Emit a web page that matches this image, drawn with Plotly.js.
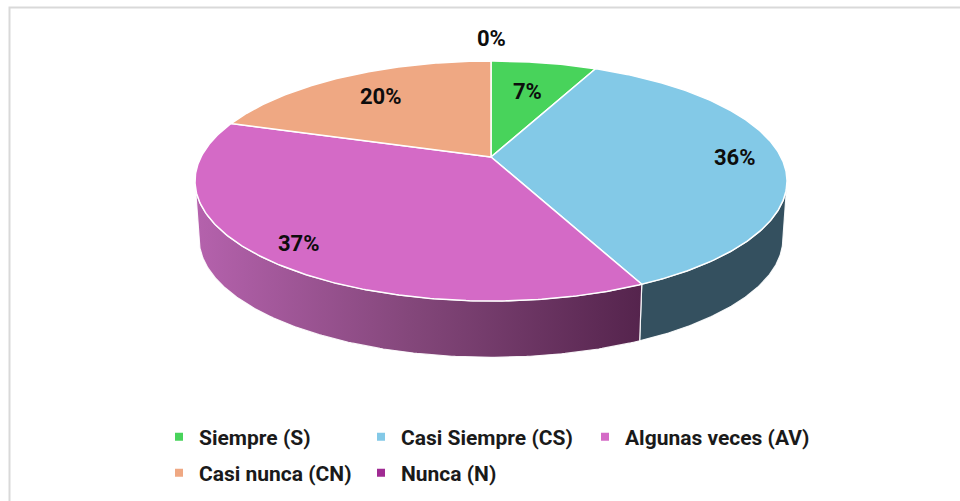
<!DOCTYPE html>
<html>
<head>
<meta charset="utf-8">
<script src="https://cdn.plot.ly/plotly-3.0.1.min.js"></script>
<style>
html,body{margin:0;padding:0;background:#ffffff;}
#chart{width:960px;height:501px;}
</style>
</head>
<body>
<div id="chart"></div>
<script>
// ---------- data ----------
const categories = ['Siempre (S)', 'Casi Siempre (CS)', 'Algunas veces (AV)', 'Casi nunca (CN)', 'Nunca (N)'];
const percentages = [7, 36, 37, 20, 0];

// ---------- styles ----------
const topColors = ['#48D35B', '#83C9E7', '#D46AC6', '#EFA883', '#A02B93'];
const sideFills = [
  null,
  [[0, '#34505F'], [1, '#34505F']],
  [[0, '#B562AD'], [0.5, '#824679'], [1, '#55244D']],
  null,
  null
];
const labelRadius = [0.66, 0.84, 0.87, 0.72, 1.3];
const legendSlots = ['legend', 'legend4', 'legend3', 'legend2', 'legend2'];
const FONT = 'Roboto, "Liberation Sans", Arial, sans-serif';

// ---------- geometry (tilted disc in perspective) ----------
const G = {cx: 491, cy: 181, rx: 296, ry: 120, depth: 58, p: 0.2, bottomScale: 0.986};
function project(theta, r, drop, scale) {
  const u = r * Math.sin(theta), v = r * Math.cos(theta);
  const d = 1 + G.p * v;
  const up = u * Math.sqrt(1 - G.p * G.p) / d;
  const vp = (v + G.p) / d;
  const s = scale || 1;
  return [G.cx + G.rx * s * up, G.cy - G.ry * s * vp + (drop || 0)];
}
function arc(a0, a1, r, drop, scale) {
  const n = Math.max(2, Math.ceil(Math.abs(a1 - a0) / 0.01));
  const pts = [];
  for (let i = 0; i <= n; i++) pts.push(project(a0 + (a1 - a0) * i / n, r, drop, scale));
  return pts;
}

const total = percentages.reduce((a, b) => a + b, 0);
const starts = [], ends = [];
let acc = 0;
percentages.forEach(v => {
  starts.push(acc / total * 2 * Math.PI);
  acc += v;
  ends.push(acc / total * 2 * Math.PI);
});

const frontA = Math.acos(-G.p), frontB = 2 * Math.PI - Math.acos(-G.p);
const traces = [];

// sides
percentages.forEach((v, i) => {
  const a0 = Math.max(starts[i], frontA), a1 = Math.min(ends[i], frontB);
  if (v <= 0 || a1 <= a0 || !sideFills[i]) return;
  const top = arc(a0, a1, 1, 0, 1);
  const bot = arc(a0, a1, 1, G.depth, G.bottomScale).reverse();
  const pts = top.concat(bot);
  pts.push(pts[0]);
  traces.push({
    type: 'scatter', mode: 'lines', fill: 'toself',
    x: pts.map(p => p[0]), y: pts.map(p => p[1]),
    line: {color: 'rgba(255,255,255,0.9)', width: 1.2},
    fillgradient: {type: 'horizontal', colorscale: sideFills[i]},
    showlegend: false, hoverinfo: 'skip'
  });
});

// top faces
percentages.forEach((v, i) => {
  if (v <= 0) return;
  const c = project(0, 0);
  const pts = [c].concat(arc(starts[i], ends[i], 1, 0, 1));
  pts.push(c);
  traces.push({
    type: 'scatter', mode: 'lines', fill: 'toself',
    x: pts.map(p => p[0]), y: pts.map(p => p[1]),
    line: {color: '#ffffff', width: 1.5},
    fillcolor: topColors[i],
    name: categories[i], showlegend: false,
    hoveron: 'fills', hoverinfo: 'text', text: categories[i] + ': ' + v + '%'
  });
});

// legend entries
categories.forEach((c, i) => {
  traces.push({
    type: 'scatter', mode: 'markers', x: [null], y: [null],
    name: c, legend: legendSlots[i],
    marker: {symbol: 'square', size: 8, color: topColors[i]},
    showlegend: true
  });
});

// data labels
const annotations = percentages.map((v, i) => {
  const mid = (starts[i] + ends[i]) / 2;
  const p = project(mid, labelRadius[i]);
  return {
    x: p[0], y: p[1], xref: 'x', yref: 'y',
    text: '<b>' + Math.round(v / total * 100) + '%</b>',
    showarrow: false,
    font: {family: FONT, size: 22, color: '#0d0d0d'}
  };
});

const legendBase = {
  orientation: 'h', xanchor: 'left', yanchor: 'middle',
  bgcolor: 'rgba(0,0,0,0)', borderwidth: 0,
  font: {family: FONT, size: 21, color: '#1a1a1a', weight: 'bold'},
  itemclick: false, itemdoubleclick: false
};

const layout = {
  width: 960, height: 501,
  margin: {l: 0, r: 0, t: 0, b: 0},
  paper_bgcolor: '#ffffff', plot_bgcolor: '#ffffff',
  xaxis: {range: [0, 960], visible: false, fixedrange: true},
  yaxis: {range: [501, 0], visible: false, fixedrange: true},
  showlegend: true,
  legend: Object.assign({}, legendBase, {x: 159 / 960, y: 1 - 437 / 501}),
  legend4: Object.assign({}, legendBase, {x: 361 / 960, y: 1 - 437 / 501}),
  legend3: Object.assign({}, legendBase, {x: 585 / 960, y: 1 - 437 / 501}),
  legend2: Object.assign({}, legendBase, {x: 159 / 960, y: 1 - 473 / 501, entrywidth: 157, entrywidthmode: 'pixels'}),
  annotations: annotations,
  shapes: [{
    type: 'rect', xref: 'x', yref: 'y', x0: 9.5, y0: 7.5, x1: 990, y1: 530,
    line: {color: '#d9d9d9', width: 2}, layer: 'below'
  }],
  hovermode: 'closest'
};

Plotly.newPlot('chart', traces, layout, {displayModeBar: false});
</script>
</body>
</html>
